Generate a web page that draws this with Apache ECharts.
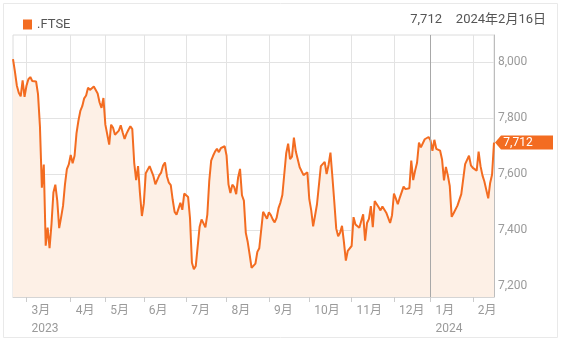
<!DOCTYPE html>
<html><head><meta charset="utf-8">
<script src="https://cdn.jsdelivr.net/npm/echarts@6/dist/echarts.min.js"></script>
<style>html,body{margin:0;padding:0;background:#fff}#c{width:567px;height:342px}</style>
</head><body><div id="c"></div>
<script>
const seriesName = '.FTSE';
const startDate = '2023-02-20';
const endDate = '2024-02-16';
const holidays = ['2023-04-07','2023-04-10','2023-05-01','2023-05-08','2023-05-29','2023-08-28','2023-12-25','2023-12-26','2024-01-01'];
const values = [
  8010, 7965, 7915, 7890, 7877, 7934, 7875, 7915, 7938, 7946,
  7932, 7926, 7930, 7885, 7770, 7551, 7634, 7344, 7409, 7335,
  7420, 7534, 7562, 7505, 7407, 7445, 7486, 7562, 7617, 7634,
  7668, 7638, 7665, 7745, 7790, 7825, 7842, 7870, 7880, 7908,
  7900, 7905, 7912, 7908, 7887, 7855, 7836, 7871, 7776, 7775,
  7705, 7776, 7765, 7740, 7733, 7755, 7774, 7748, 7725, 7744,
  7758, 7770, 7760, 7640, 7578, 7628, 7530, 7450, 7495, 7603,
  7605, 7628, 7622, 7592, 7563, 7570, 7595, 7605, 7630, 7641,
  7592, 7569, 7560, 7508, 7465, 7455, 7462, 7497, 7472, 7530,
  7527, 7518, 7442, 7283, 7260, 7272, 7278, 7412, 7438, 7433,
  7410, 7455, 7575, 7648, 7665, 7680, 7690, 7678, 7692, 7695,
  7699, 7666, 7563, 7532, 7562, 7553, 7528, 7588, 7618, 7524,
  7505, 7390, 7357, 7312, 7265, 7258, 7280, 7322, 7335, 7342,
  7465, 7472, 7440, 7463, 7453, 7438, 7427, 7443, 7478, 7498,
  7525, 7527, 7674, 7708, 7653, 7662, 7730, 7680, 7682, 7624,
  7623, 7596, 7602, 7606, 7510, 7470, 7413, 7452, 7492, 7494,
  7628, 7621, 7643, 7600, 7632, 7676, 7590, 7500, 7405, 7378,
  7390, 7415, 7357, 7291, 7326, 7322, 7343, 7446, 7420, 7416,
  7408, 7403, 7456, 7362, 7425, 7440, 7485, 7410, 7503, 7497,
  7482, 7470, 7484, 7487, 7462, 7456, 7425, 7453, 7530, 7512,
  7492, 7515, 7515, 7555, 7546, 7544, 7549, 7648, 7578, 7612,
  7640, 7712, 7695, 7698, 7724, 7722, 7732, 7720, 7683, 7722,
  7690, 7693, 7683, 7652, 7577, 7625, 7595, 7557, 7447, 7460,
  7462, 7487, 7486, 7528, 7530, 7635, 7634, 7665, 7631, 7622,
  7616, 7612, 7680, 7628, 7595, 7573, 7572, 7513, 7568, 7598,
  7712
];
const yTicks = [7200, 7400, 7600, 7800, 8000];
const yMin = 7161, yMax = 8096;

function tradingDays() {
  const out = [];
  let d = new Date(startDate + 'T00:00:00Z');
  const e = new Date(endDate + 'T00:00:00Z');
  while (d <= e) {
    const w = d.getUTCDay();
    const s = d.toISOString().slice(0, 10);
    if (w !== 0 && w !== 6 && !holidays.includes(s)) out.push(s);
    d = new Date(d.getTime() + 86400000);
  }
  return out;
}
const dates = tradingDays();
const monthStart = dates.map((s, i) => i > 0 && s.slice(5, 7) !== dates[i - 1].slice(5, 7));
const firstMonthIdx = monthStart.indexOf(true);
const yearStartIdx = dates.findIndex((s, i) => i > 0 && s.slice(0, 4) !== dates[i - 1].slice(0, 4));
const lastDate = dates[dates.length - 1];
const lastVal = values[values.length - 1];
const fmt = v => v.toLocaleString('en-US');
const jpDate = s => `${+s.slice(0,4)}年${+s.slice(5,7)}月${+s.slice(8,10)}日`;

const ORANGE = '#f36c21';
const FONT = 'Roboto, "Noto Sans CJK JP", sans-serif';

const chart = echarts.init(document.getElementById('c'), null, {renderer: 'canvas'});
chart.setOption({
  animation: false,
  textStyle: {fontFamily: FONT},
  legend: {
    left: 18, top: 13, icon: 'rect', itemWidth: 9, itemHeight: 10, itemGap: 8,
    textStyle: {fontSize: 13, color: '#555', fontFamily: FONT},
    data: [seriesName]
  },
  graphic: [
    {type: 'rect', z: -10, shape: {x: 3.5, y: 3.5, width: 554, height: 334}, style: {fill: 'none', stroke: '#e9e9e9', lineWidth: 1}},
    {type: 'text', right: 21, top: 13, style: {text: jpDate(lastDate), fill: '#555', font: '13px ' + FONT}},
    {type: 'text', right: 125, top: 13, style: {text: fmt(lastVal), fill: '#555', font: '13px ' + FONT}}
  ],
  grid: {left: 13, right: 73, top: 35, bottom: 45, show: true, borderColor: '#dcdcdc', borderWidth: 1},
  xAxis: {
    type: 'category', data: dates, boundaryGap: false,
    axisLine: {show: true, lineStyle: {color: '#d5d5d5'}},
    axisTick: {show: true, length: 5, interval: i => monthStart[i], lineStyle: {color: '#ccc'}},
    splitLine: {show: true, interval: i => monthStart[i], lineStyle: {color: '#e3e3e3'}},
    axisLabel: {
      interval: i => monthStart[i], align: 'left', padding: [0, 0, 0, 5], margin: 5,
      color: '#9a9a9a', fontSize: 12, lineHeight: 18, fontFamily: FONT,
      formatter: (v, i) => {
        const m = +v.slice(5, 7);
        return m + '月' + ((m === 1 || i === firstMonthIdx) ? '\n' + v.slice(0, 4) : '');
      }
    }
  },
  yAxis: {
    type: 'value', position: 'right', min: yMin, max: yMax,
    axisLine: {show: true, lineStyle: {color: '#bdbdbd'}},
    axisTick: {show: false, customValues: yTicks},
    axisLabel: {customValues: yTicks, margin: 4, color: '#9a9a9a', fontSize: 12, fontFamily: FONT, formatter: v => fmt(v)},
    splitLine: {show: true, lineStyle: {color: '#e3e3e3'}}
  },
  series: [{
    name: seriesName, type: 'line', data: values, symbol: 'none', showSymbol: false,
    color: ORANGE,
    lineStyle: {color: ORANGE, width: 2},
    areaStyle: {color: '#fdf0e6', opacity: 1},
    markLine: {
      silent: true, symbol: ['none', 'none'], label: {show: false},
      lineStyle: {color: '#a8a8a8', width: 1, type: 'solid'},
      data: [{xAxis: dates[yearStartIdx]}]
    },
    markPoint: {
      symbol: 'path://M0,7 L6,0 L58,0 L58,14 L6,14 Z',
      symbolSize: [58, 14], symbolOffset: [30, 0], symbolKeepAspect: false,
      itemStyle: {color: ORANGE},
      label: {show: true, position: 'inside', offset: [-6, 0], color: '#fff', fontSize: 12, fontFamily: FONT, formatter: p => fmt(p.value)},
      data: [{coord: [lastDate, lastVal], value: lastVal}]
    }
  }]
});
</script>
</body></html>
